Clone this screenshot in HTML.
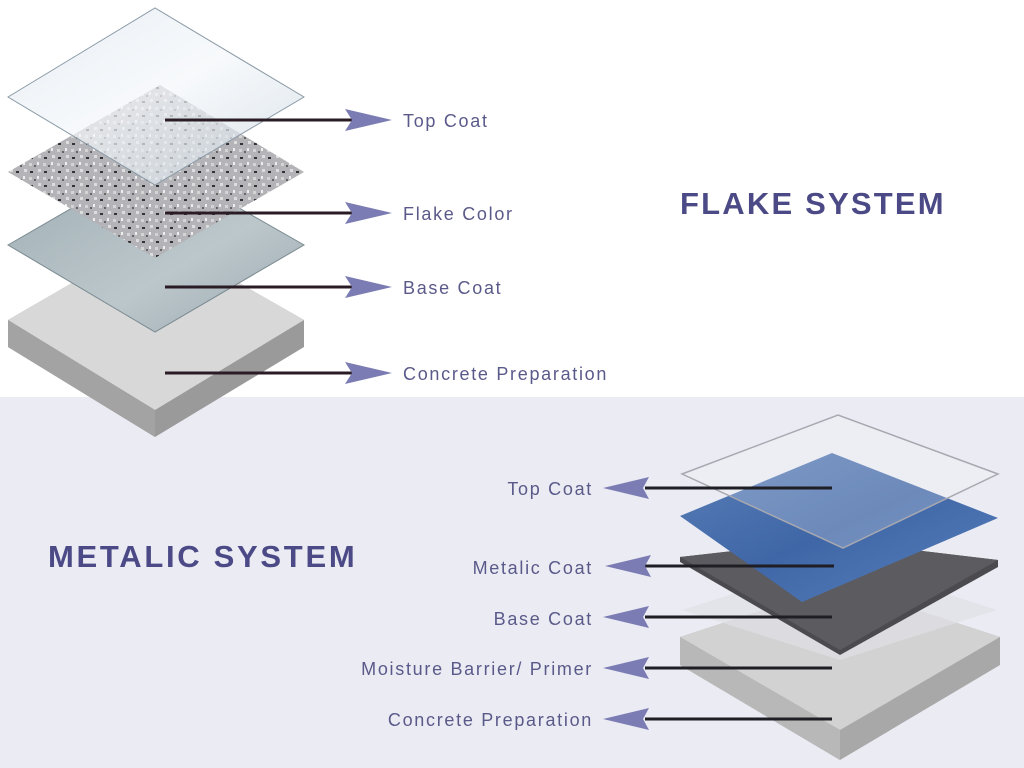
<!DOCTYPE html>
<html><head><meta charset="utf-8"><style>
body{margin:0;width:1024px;height:768px;overflow:hidden;background:#fff;font-family:"Liberation Sans",sans-serif}
svg{display:block}
</style></head><body>
<svg width="1024" height="768" viewBox="0 0 1024 768">
<defs>
<linearGradient id="glass" x1="0" y1="0" x2="1" y2="1"><stop offset="0" stop-color="#dfe8f0"/><stop offset="0.5" stop-color="#f4f7fa"/><stop offset="1" stop-color="#c9d6e0"/></linearGradient>
<linearGradient id="base" x1="0" y1="0" x2="1" y2="1"><stop offset="0" stop-color="#9eadb3"/><stop offset="0.6" stop-color="#bcc7cb"/><stop offset="1" stop-color="#9aa9b0"/></linearGradient>
<linearGradient id="blue" x1="0" y1="0" x2="1" y2="1"><stop offset="0" stop-color="#5a7fb8"/><stop offset="0.5" stop-color="#3f66a6"/><stop offset="1" stop-color="#5a82bd"/></linearGradient>
<pattern id="flake" width="14" height="14" patternUnits="userSpaceOnUse"><rect width="14" height="14" fill="#b4b4b8"/><rect x="2" y="3" width="3" height="2" fill="#333"/><rect x="9" y="8" width="2" height="3" fill="#eee"/><rect x="6" y="11" width="2" height="2" fill="#666"/><rect x="10" y="1" width="3" height="3" fill="#ddd"/><rect x="1" y="9" width="3" height="3" fill="#d4d4d4"/></pattern>
</defs>
<rect x="0" y="397" width="1024" height="371" fill="#ebebf3"/>
<!-- flake system -->
<polygon points="8,320 155,235 304,320 304,347 155,437 8,347" fill="#9a9a9a"/>
<polygon points="8,320 155,235 304,320 155,410" fill="#d8d8d8"/>
<polygon points="8,347 155,437 155,410 8,320" fill="#a3a3a3"/>
<polygon points="8,245 155,160 304,245 155,332" fill="url(#base)" stroke="#7a8a90"/>
<polygon points="8,172 160,85 304,172 155,258" fill="url(#flake)"/>
<polygon points="8,97 155,8 304,97 155,185" fill="url(#glass)" fill-opacity="0.7" stroke="#8a9aa6"/>
<g stroke="#2a1c24" stroke-width="3">
<line x1="165" y1="120" x2="352" y2="120"/><line x1="165" y1="213" x2="352" y2="213"/><line x1="165" y1="287" x2="352" y2="287"/><line x1="165" y1="373" x2="352" y2="373"/></g>
<g fill="#7c7cb4">
<polygon points="345,109 392,120 345,131 352,120"/><polygon points="345,202 392,213 345,224 352,213"/><polygon points="345,276 392,287 345,298 352,287"/><polygon points="345,362 392,373 345,384 352,373"/></g>
<g fill="#5a5a8a" font-size="18" letter-spacing="1.7">
<text x="403" y="127">Top Coat</text><text x="403" y="220">Flake Color</text><text x="403" y="294">Base Coat</text><text x="403" y="380">Concrete Preparation</text>
<text x="593" y="495" text-anchor="end">Top Coat</text><text x="593" y="574" text-anchor="end">Metalic Coat</text><text x="593" y="625" text-anchor="end">Base Coat</text><text x="593" y="675" text-anchor="end">Moisture Barrier/ Primer</text><text x="593" y="726" text-anchor="end">Concrete Preparation</text>
</g>
<text x="680" y="214" font-size="31" font-weight="bold" fill="#4b4a86" letter-spacing="2.2">FLAKE SYSTEM</text>
<text x="48" y="567" font-size="31" font-weight="bold" fill="#4b4a86" letter-spacing="2.7">METALIC SYSTEM</text>
<!-- metallic -->
<polygon points="680,637 840,585 1000,637 1000,665 840,760 680,665" fill="#a8a8a8"/>
<polygon points="680,637 840,585 1000,637 840,730" fill="#d2d2d2"/>
<polygon points="680,665 840,760 840,730 680,637" fill="#b8b8b8"/>
<polygon points="682,610 840,560 997,610 840,660" fill="#e0e0e6" fill-opacity="0.7"/>
<polygon points="680,557 830,540 998,560 998,567 840,655 680,562" fill="#4b4b4f"/>
<polygon points="680,557 830,540 998,560 840,650" fill="#5c5c60"/>
<polygon points="680,516 832,453 998,518 802,602" fill="url(#blue)"/>
<polygon points="682,474 838,415 998,474 843,548" fill="#f4f4f8" fill-opacity="0.25" stroke="#a8a8b0" stroke-width="1.5"/>
<g stroke="#1e1e24" stroke-width="3">
<line x1="645" y1="488" x2="832" y2="488"/><line x1="645" y1="566" x2="834" y2="566"/><line x1="645" y1="617" x2="832" y2="617"/><line x1="645" y1="668" x2="832" y2="668"/><line x1="645" y1="719" x2="832" y2="719"/></g>
<g fill="#7c7cb4">
<polygon points="649,477 603,488 649,499 643,488"/><polygon points="651,555 605,566 651,577 645,566"/><polygon points="649,606 603,617 649,628 643,617"/><polygon points="649,657 603,668 649,679 643,668"/><polygon points="649,708 603,719 649,730 643,719"/></g>
</svg>
</body></html>
